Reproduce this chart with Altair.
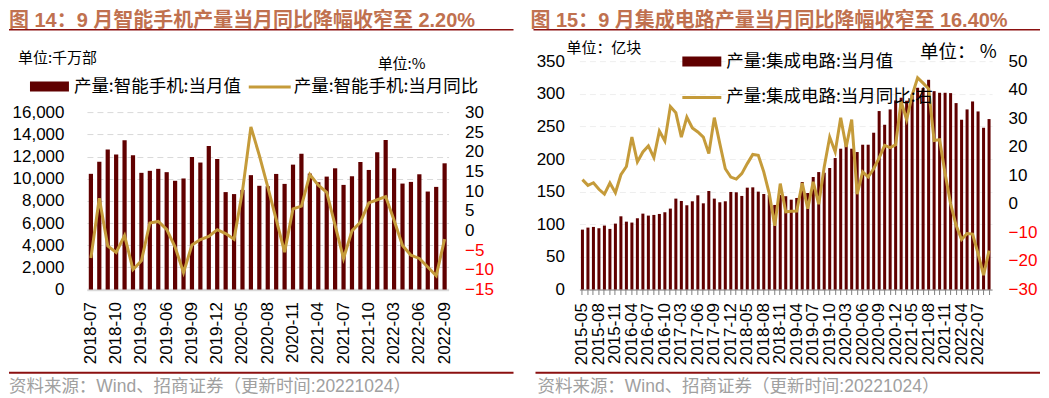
import json
import altair as alt
import pandas as pd

# ---------------- data ----------------
left_months = [
    "2018-07", "2018-08", "2018-09", "2018-10", "2018-11", "2018-12",
    "2019-03", "2019-04", "2019-05", "2019-06", "2019-07", "2019-08", "2019-09", "2019-10", "2019-11", "2019-12",
    "2020-03", "2020-04", "2020-05", "2020-06", "2020-07", "2020-08", "2020-09", "2020-10", "2020-11", "2020-12",
    "2021-03", "2021-04", "2021-05", "2021-06", "2021-07", "2021-08", "2021-09", "2021-10", "2021-11", "2021-12",
    "2022-03", "2022-04", "2022-05", "2022-06", "2022-07", "2022-08", "2022-09",
]
left_units = [
    10450, 11530, 12640, 12190, 13480, 12130,
    10540, 10720, 10900, 10600, 9820, 10030, 11980, 11470, 12970, 11800,
    8800, 8620, 9000, 10330, 9370, 9330, 10440, 9540, 11280, 12270,
    10470, 9690, 10200, 10950, 9450, 10230, 11520, 10800, 12400, 13500,
    10950, 9570, 9720, 10410, 8850, 9270, 11400,
]
left_yoy = [
    -7.0, 8.2, -3.9, -5.6, -1.3, -9.9,
    -7.7, 1.9, 2.3, 0.3, -4.2, -10.7, -3.7, -2.3, -1.5, 0.2,
    -0.8, -2.2, 10.0, 26.3, 19.1, 11.1, 2.8, -5.5, 5.5, 6.2,
    14.2, 11.5, 9.7, 1.3, -7.1, -0.1, 2.1, 7.0, 7.8, 8.6,
    2.6, -3.8, -6.3, -7.1, -9.3, -11.5, -2.2,
]
left_tick_labels = ["2018-07", "2018-10", "2019-03", "2019-06", "2019-09", "2019-12", "2020-05",
                    "2020-08", "2020-11", "2021-04", "2021-07", "2021-10", "2022-03", "2022-06", "2022-09"]

right_months = [
    "2015-05", "2015-06", "2015-07", "2015-08", "2015-09", "2015-10", "2015-11", "2015-12",
    "2016-03", "2016-04", "2016-05", "2016-06", "2016-07", "2016-08", "2016-09", "2016-10", "2016-11", "2016-12",
    "2017-03", "2017-04", "2017-05", "2017-06", "2017-07", "2017-08", "2017-09", "2017-10", "2017-11", "2017-12",
    "2018-03", "2018-04", "2018-05", "2018-06", "2018-07", "2018-08", "2018-09", "2018-10", "2018-11", "2018-12",
    "2019-03", "2019-04", "2019-05", "2019-06", "2019-07", "2019-08", "2019-09", "2019-10", "2019-11", "2019-12",
    "2020-03", "2020-04", "2020-05", "2020-06", "2020-07", "2020-08", "2020-09", "2020-10", "2020-11", "2020-12",
    "2021-03", "2021-04", "2021-05", "2021-06", "2021-07", "2021-08", "2021-09", "2021-10", "2021-11", "2021-12",
    "2022-03", "2022-04", "2022-05", "2022-06", "2022-07", "2022-08", "2022-09",
]
right_units = [
    91.8, 94.9, 95.9, 93.9, 98.0, 92.9, 101.0, 112.2,
    104.0, 102.6, 109.2, 116.3, 113.3, 114.3, 115.8, 118.4, 124.0, 139.3,
    135.7, 129.1, 135.2, 144.4, 132.1, 151.0, 139.3, 133.7, 135.2, 149.5,
    149.0, 143.4, 156.1, 156.6, 150.0, 146.4, 144.9, 129.6, 144.9, 143.0,
    137.7, 140.3, 164.8, 147.9, 172.4, 180.0, 179.0, 186.2, 201.5, 215.8,
    226.0, 215.8, 210.7, 221.9, 221.9, 240.3, 273.5, 252.5, 276.0, 289.8,
    293.9, 289.3, 299.0, 309.2, 308.7, 321.4, 304.0, 301.5, 301.5, 301.0,
    285.7, 260.2, 276.0, 288.2, 272.9, 247.9, 261.2,
]
right_yoy = [
    8.5, 6.5, 7.4, 5.1, 3.4, 7.3, 3.9, 10.2,
    13.1, 23.4, 14.7, 18.2, 20.3, 16.2, 25.5, 22.0, 34.1, 31.9,
    23.4, 30.4, 26.6, 25.2, 23.4, 17.6, 30.2, 21.1, 12.3, 9.4,
    8.7, 10.6, 14.1, 17.3, 17.0, 11.2, 3.6, -7.7, 7.1, -2.8,
    -2.6, -2.5, 7.3, -1.7, 7.7, -0.1, 12.9, 23.4, 18.2, 30.2,
    19.9, 29.5, 3.4, 11.2, 9.4, 12.3, 16.1, 20.5, 19.7, 20.7,
    35.9, 29.5, 38.0, 44.2, 42.3, 40.3, 22.2, 22.5, 10.6, 0.1,
    -7.5, -12.5, -10.4, -10.6, -17.4, -25.0, -16.4,
]
right_tick_labels = ["2015-05", "2015-08", "2015-11", "2016-04", "2016-07", "2016-10", "2017-03",
                     "2017-06", "2017-09", "2017-12", "2018-05", "2018-08", "2018-11", "2019-04",
                     "2019-07", "2019-10", "2020-03", "2020-06", "2020-09", "2020-12", "2021-05",
                     "2021-08", "2021-11", "2022-04", "2022-07"]

# ---------------- style ----------------
LAT = "Liberation Sans, Noto Sans CJK SC"
CJK = "Noto Sans CJK SC"
BAR = "#600000"
GOLD = "#C59B3A"
TITLE_C = "#C0714F"
DARKRED = "#8B1010"
FOOT = "#A0A0A0"
H = 228.6
NEG_RED = alt.ExprRef(expr="datum.value < 0 ? '#ff0000' : '#000000'")


def txt(s, x, y, size, color="black", weight="normal", font=CJK, align="left"):
    return alt.Chart(pd.DataFrame({"t": [s]})).mark_text(
        align=align, baseline="middle", fontSize=size, font=font, color=color, fontWeight=weight
    ).encode(x=alt.value(x), y=alt.value(y), text="t:N")


def hrule(x1, x2, y, color, w):
    return alt.Chart(pd.DataFrame({"a": [0]})).mark_rule(color=color, strokeWidth=w).encode(
        x=alt.value(x1), x2=alt.value(x2), y=alt.value(y))


def box(x1, x2, y1, y2, color, opacity=1.0):
    return alt.Chart(pd.DataFrame({"a": [0]})).mark_rect(color=color, opacity=opacity).encode(
        x=alt.value(x1), x2=alt.value(x2), y=alt.value(y1), y2=alt.value(y2))


def label_expr(ticks):
    return "indexof(" + json.dumps(ticks) + ", datum.value) >= 0 ? datum.value : ''"


# ---------------- left panel ----------------
df_l = pd.DataFrame({"month": left_months, "units": left_units, "yoy": left_yoy})
yr_l = [H, 51.3]
x_l = alt.X("month:N", sort=left_months,
            scale=alt.Scale(paddingInner=0.5, paddingOuter=0.22),
            axis=alt.Axis(title=None, labelAngle=270, labelFont=LAT, labelFontSize=17, labelColor="black",
                          labelExpr=label_expr(left_tick_labels), labelOverlap=False, ticks=False,
                          domain=True, domainColor="#d9d9d9", domainWidth=2.5, labelPadding=12, grid=False))
bars_l = alt.Chart(df_l).mark_bar(color=BAR).encode(
    x=x_l,
    y=alt.Y("units:Q", scale=alt.Scale(domain=[0, 16000], range=yr_l, nice=False),
            axis=alt.Axis(title=None, values=list(range(0, 16001, 2000)),
                          labelExpr="format(datum.value, ',d')", labelFont=LAT,
                          labelFontSize=17, labelColor="black", labelPadding=23, ticks=False, domain=False,
                          grid=True, gridColor="#d9d9d9", gridDash=[6, 4], gridWidth=1)))
line_l = alt.Chart(df_l).mark_line(color=GOLD, strokeWidth=3).encode(
    x=x_l,
    y=alt.Y("yoy:Q", scale=alt.Scale(domain=[-15, 30], range=yr_l, nice=False, zero=False),
            axis=alt.Axis(title=None, orient="right", values=list(range(-15, 31, 5)), labelFont=LAT,
                          labelFontSize=17, labelColor=NEG_RED, labelPadding=16, ticks=False,
                          domain=False, grid=False)))

left = alt.layer(
    box(-78, -77, -52.7, -51.7, "white", 0.0),
    bars_l, line_l,
    txt("图 14：9 月智能手机产量当月同比降幅收窄至 2.20%", -78, -40.6, 20, TITLE_C, "bold", LAT),
    hrule(-78, 427, -31.4, DARKRED, 1.5),
    txt("单位:千万部", -69, -2.7, 15),
    box(-57, -18, 20.3, 30.3, BAR),
    txt("产量:智能手机:当月值", -13, 25.8, 17.5),
    hrule(162, 204, 26, GOLD, 3),
    txt("产量:智能手机:当月同比", 207, 25.8, 17.5),
    txt("单位:%", 291, 2.6, 15),
    hrule(-78, 427, 312, DARKRED, 2),
    txt("资料来源：Wind、招商证券（更新时间:20221024）", -78, 326.3, 17.5, FOOT, "normal", LAT),
).resolve_scale(y="independent").properties(width=362, height=H)

# ---------------- right panel ----------------
df_r = pd.DataFrame({"month": right_months, "units": right_units, "yoy": right_yoy})
x_r = alt.X("month:N", sort=right_months,
            scale=alt.Scale(paddingInner=0.45, paddingOuter=0.27),
            axis=alt.Axis(title=None, labelAngle=270, labelFont=LAT, labelFontSize=17, labelColor="black",
                          labelExpr=label_expr(right_tick_labels), labelOverlap=False, ticks=True,
                          tickSize=5, tickColor="#808080", domain=True, domainColor="#808080",
                          domainWidth=1, labelPadding=8, grid=False))
bars_r = alt.Chart(df_r).mark_bar(color=BAR).encode(
    x=x_r,
    y=alt.Y("units:Q", scale=alt.Scale(domain=[0, 350], nice=False),
            axis=alt.Axis(title=None, values=list(range(0, 351, 50)), labelFont=LAT, labelFontSize=17,
                          labelColor="black", labelPadding=15, ticks=False, domain=False, grid=True,
                          gridColor="#eeeeee", gridDash=[6, 4], gridWidth=1)))
line_r = alt.Chart(df_r).mark_line(color=GOLD, strokeWidth=3).encode(
    x=x_r,
    y=alt.Y("yoy:Q", scale=alt.Scale(domain=[-30, 50], nice=False, zero=False),
            axis=alt.Axis(title=None, orient="right", values=list(range(-30, 51, 10)), labelFont=LAT,
                          labelFontSize=17, labelColor=NEG_RED, labelPadding=16, ticks=False,
                          domain=False, grid=False)))

right = alt.layer(
    bars_r, line_r,
    txt("图 15：9 月集成电路产量当月同比降幅收窄至 16.40%", -49, -40.6, 20, TITLE_C, "bold", LAT),
    hrule(-46, 461, -31.4, DARKRED, 1.5),
    txt("单位：亿块", -13, -12.7, 15),
    box(103, 142, -4.7, 5.3, BAR),
    txt("产量:集成电路:当月值", 147, 1, 17.5),
    hrule(103, 142, 36.3, GOLD, 3),
    txt("产量:集成电路:当月同比:右", 147, 36.3, 17.5),
    txt("单位： %", 341, -8.7, 18.5),
    hrule(-44, 461, 312, DARKRED, 2),
    txt("资料来源：Wind、招商证券（更新时间:20221024）", -42, 326.3, 17.5, FOOT, "normal", LAT),
).resolve_scale(y="independent").properties(width=413, height=H)

chart = alt.hconcat(left, right, spacing=131, bounds="flush").properties(padding=0).configure_view(
    stroke=None)

chart.save("out.html", embed_options={"renderer": "svg", "actions": False})
